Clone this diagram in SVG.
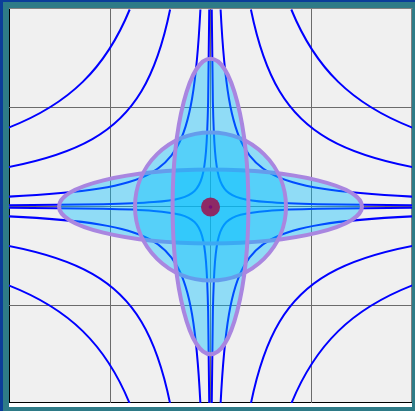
<svg xmlns="http://www.w3.org/2000/svg" xmlns:xlink="http://www.w3.org/1999/xlink" width="415" height="411" viewBox="0 0 415 411">
<style>
.grid{stroke:#6b6b6b;stroke-width:1;fill:none}
.hyp{fill:none;stroke:#0000ff;stroke-width:2;vector-effect:non-scaling-stroke}
.blob{fill:#00bfff;fill-opacity:0.4;stroke:#a986e0;stroke-width:4}
</style>
<defs>
<clipPath id="plot"><rect x="9" y="9" width="403" height="394"/></clipPath>
<g id="q">
<path class="hyp" vector-effect="non-scaling-stroke" d="M0.8,2 C0.9222,1.6946 1.0718,1.4581 1.2649,1.2649 C1.4581,1.0718 1.6946,0.9222 2,0.8"/>
<path class="hyp" vector-effect="non-scaling-stroke" d="M0.4,2 C0.4715,1.6423 0.5617,1.3788 0.684,1.1696 C0.8063,0.9604 0.9604,0.8063 1.1696,0.684 C1.3788,0.5617 1.6423,0.4715 2,0.4"/>
<path class="hyp" vector-effect="non-scaling-stroke" d="M0.1,2 C0.11997,1.60056 0.1457,1.31797 0.18206,1.09856 C0.21842,0.87916 0.26525,0.72393 0.33145,0.60342 C0.39765,0.4829 0.4829,0.39765 0.60342,0.33145 C0.72393,0.26525 0.87916,0.21842 1.09856,0.18206 C1.31797,0.1457 1.60056,0.11997 2,0.1"/>
<path class="hyp" vector-effect="non-scaling-stroke" d="M0.0125,2 C0.015143,1.57706 0.018589,1.28487 0.023574,1.06059 C0.028559,0.83631 0.035057,0.68131 0.044459,0.56238 C0.053861,0.44345 0.066114,0.36126 0.083845,0.2982 C0.10157,0.23514 0.12468,0.19156 0.15812,0.15812 C0.19156,0.12468 0.23514,0.10157 0.2982,0.083845 C0.36126,0.066114 0.44345,0.053861 0.56238,0.044459 C0.68131,0.035057 0.83631,0.028559 1.06059,0.023574 C1.28487,0.018589 1.57706,0.015143 2,0.0125"/>
</g>
</defs>
<g id="frame">
<rect width="415" height="411" fill="#2e7b87"/>
<rect x="3" width="412" height="2" fill="#0b3d99"/>
<rect width="3" height="411" fill="#0b3d99"/>
<rect x="9" y="403" width="403" height="4" fill="#ffffff"/>
<rect x="9" y="9" width="403" height="394" fill="#f0f0f0"/>
<path d="M9,8.5H412.5M411.5,9V403" stroke="#808080" stroke-width="1" fill="none"/>
<path d="M9.5,9V403M9,402.5H412" stroke="#000000" stroke-width="1" fill="none"/>
</g>
<g id="grid" class="grid">
<path d="M110.5,9V403M210.5,9V403M311.5,9V403M9,107.5H412M9,206.5H412M9,305.5H412"/>
</g>
<g id="connectors" clip-path="url(#plot)">
<g transform="translate(210.5,206.5) scale(101,-98.5)">
<use xlink:href="#q"/>
<use xlink:href="#q" transform="scale(-1,1)"/>
<use xlink:href="#q" transform="scale(1,-1)"/>
<use xlink:href="#q" transform="scale(-1,-1)"/>
</g>
</g>
<g id="ellipse-horizontal">
<ellipse class="blob" cx="210.5" cy="206.5" rx="151.5" ry="37"/>
</g>
<g id="circle">
<ellipse class="blob" cx="210.5" cy="206.5" rx="75.5" ry="74"/>
</g>
<g id="ellipse-vertical">
<ellipse class="blob" cx="210.5" cy="206.5" rx="37.9" ry="147.8"/>
</g>
<g id="center-dot">
<circle cx="210.5" cy="207" r="9.5" fill="#8d2a65"/>
<circle cx="210.5" cy="207" r="1.8" fill="#7a0c78"/>
</g>
</svg>
